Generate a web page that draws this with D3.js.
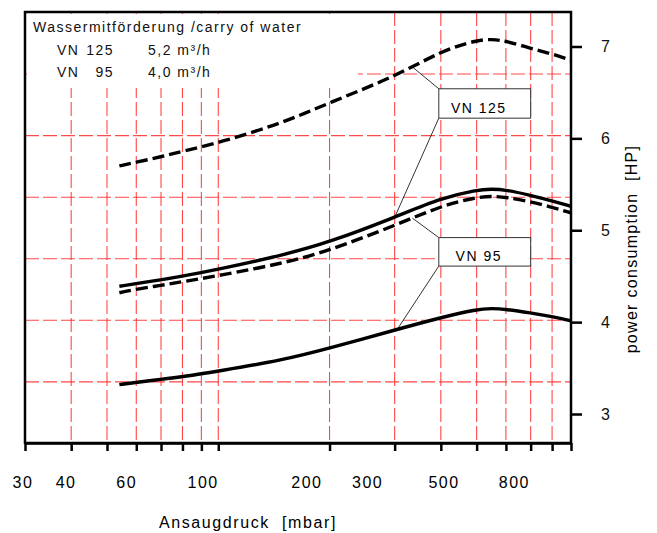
<!DOCTYPE html>
<html>
  <head>
	<meta charset="utf-8">
    <title>Leistungsbedarf VN 95 / VN 125</title>
    <script src="https://cdn.jsdelivr.net/npm/d3@7"></script>
  	<style>
		body{
			margin:0;
			background:#fff;
		}
		svg{
			display:block;
			font-family:"Liberation Sans", Arial, sans-serif;
		}
		svg text{
			white-space:pre;
		}
		.grid line{
			stroke:#ff2a2a;
			stroke-width:1.1px;
			stroke-dasharray:14,4;
			opacity:0.85;
		}
		.curve{
			fill:none;
			stroke:#000;
			stroke-width:3.4px;
		}
		.wet{
			stroke-dasharray:12,5;
		}
		.axis path, .axis line{
			stroke:#000;
			stroke-width:2.5px;
		}
	</style>
  </head>
  <body>
    <div id="diagram"></div>
    <script>
		// x: Ansaugdruck [mbar], y: power consumption [HP]
		var xTicks = [30,40,50,60,70,80,90,100,200,300,400,500,600,700,800,900];
		var xLabels = [30,40,60,100,200,300,500,800];
		var yTicks = [3,4,5,6,7];
		var gridHP = [3.35,4.02,4.69,5.36,6.03,6.70];//kW lines 2.5 ... 5.0 in HP

		var pressure = [54,60,70,80,100,150,200,300,400,500,550,600,700,800,900];
		var vn125Wet = [5.70,5.74,5.80,5.86,5.95,6.17,6.39,6.67,6.95,7.07,7.08,7.06,6.98,6.92,6.85];
		var vn125Dry = [4.39,4.42,4.46,4.50,4.575,4.73,4.87,5.14,5.35,5.44,5.45,5.44,5.38,5.32,5.26];
		var vn95Wet = [4.32,4.36,4.40,4.44,4.505,4.64,4.78,5.05,5.265,5.36,5.37,5.36,5.31,5.25,5.19];
		var vn95Dry = [3.32,3.345,3.377,3.405,3.467,3.587,3.715,3.914,4.05,4.14,4.15,4.14,4.10,4.06,4.015];

		var legendRows = [["VN","125","5,2 m³/h"],["VN","95","4,0 m³/h"]];
		// label boxes: x range [mbar], y range [HP], leader targets [mbar]
		var boxes = [
			{label:"VN 125", x0:395, x1:700, y0:6.54, y1:6.22, top:[335,vn125Wet], bottom:[300,vn125Dry]},
			{label:"VN 95", x0:395, x1:700, y0:4.92, y1:4.61, top:[335,vn95Wet], bottom:[305,vn95Dry]}
		];

		var width = 657, height = 533;
		var plotLeft = 25, plotRight = 571, plotTop = 12, plotBottom = 443;

		var svg = d3.select("#diagram").append("svg")
					.attr("width", width)
					.attr("height", height);

		var xScale = d3.scaleLog().domain([30,900]).range([plotLeft,plotRight]);
		// the printed labels sit a bit off their ticks in the original
		var xLabelScale = d3.scaleLog().domain([30,900]).range([23,532]);
		var yScale = d3.scaleLinear().domain([3,7]).range([414,46.5]);

		// grid
		var grid = svg.append("g").attr("class","grid");
		grid.selectAll(".v").data(xTicks.slice(1,-1)).enter().append("line")
			.attr("x1",function(d){return xScale(d);})
			.attr("x2",function(d){return xScale(d);})
			.attr("y1",plotTop).attr("y2",plotBottom);
		grid.selectAll(".h").data(gridHP).enter().append("line")
			.attr("x1",plotLeft).attr("x2",plotRight)
			.attr("y1",function(d){return yScale(d);})
			.attr("y2",function(d){return yScale(d);});

		// white area behind the legend text
		svg.append("rect")
			.attr("x",plotLeft+2).attr("y",plotTop+2)
			.attr("width",358-plotLeft-2).attr("height",88-plotTop-2)
			.attr("fill","#fff");

		// legend text
		var legend = svg.append("g").attr("font-size",14).attr("letter-spacing",1.5).attr("fill","#111");
		legend.append("text").attr("x",33).attr("y",32).text("Wassermitförderung /carry of water");
		legendRows.forEach(function(r,i){
			var yy = 55 + i*22;
			legend.append("text").attr("x",57).attr("y",yy).text(r[0]);
			legend.append("text").attr("x",114).attr("y",yy).attr("text-anchor","end").text(r[1]);
			legend.append("text").attr("x",148).attr("y",yy).text(r[2]);
		});

		// curves
		var line = d3.line()
			.x(function(d){return xScale(d[0]);})
			.y(function(d){return yScale(d[1]);})
			.curve(d3.curveBasis);
		function pts(vals){ return pressure.map(function(p,i){return [p,vals[i]];}); }
		[[vn125Wet,true],[vn125Dry,false],[vn95Wet,true],[vn95Dry,false]].forEach(function(s){
			svg.append("path")
				.attr("class", s[1] ? "curve wet" : "curve")
				.attr("d", line(pts(s[0])));
		});

		// value on a curve at pressure p (linear in log p)
		function valueAt(vals,p){
			var i = d3.bisectRight(pressure,p) - 1;
			var t = (Math.log(p)-Math.log(pressure[i]))/(Math.log(pressure[i+1])-Math.log(pressure[i]));
			return vals[i] + t*(vals[i+1]-vals[i]);
		}

		// label boxes with leader lines
		boxes.forEach(function(b){
			var g = svg.append("g");
			g.append("line")
				.attr("x1",xScale(b.x0)).attr("y1",yScale(b.y0))
				.attr("x2",xScale(b.top[0])).attr("y2",yScale(valueAt(b.top[1],b.top[0])))
				.attr("stroke","#000").attr("stroke-width",0.8);
			g.append("line")
				.attr("x1",xScale(b.x0)).attr("y1",yScale(b.y1))
				.attr("x2",xScale(b.bottom[0])).attr("y2",yScale(valueAt(b.bottom[1],b.bottom[0])))
				.attr("stroke","#000").attr("stroke-width",0.8);
			g.append("rect")
				.attr("x",xScale(b.x0)).attr("y",yScale(b.y0))
				.attr("width",xScale(b.x1)-xScale(b.x0))
				.attr("height",yScale(b.y1)-yScale(b.y0))
				.attr("fill","#fff").attr("stroke","#333").attr("stroke-width",1);
			g.append("text")
				.attr("x",xScale(b.x0)+40)
				.attr("y",yScale(b.y1)-5)
				.attr("text-anchor","middle")
				.attr("font-size",14).attr("letter-spacing",1.5)
				.text(b.label);
		});

		// frame
		svg.append("rect")
			.attr("x",plotLeft).attr("y",plotTop)
			.attr("width",plotRight-plotLeft).attr("height",plotBottom-plotTop)
			.attr("fill","none").attr("stroke","#000").attr("stroke-width",2.5);

		// bottom axis (ticks only, labels placed separately)
		svg.append("g")
			.attr("class","axis")
			.attr("transform","translate(0,"+plotBottom+")")
			.call(d3.axisBottom(xScale).tickValues(xTicks).tickSize(8).tickSizeOuter(0).tickFormat(""))
			.call(function(g){ g.selectAll(".tick line").attr("stroke-width",2); });
		svg.append("g").selectAll("text").data(xLabels).enter().append("text")
			.attr("x",function(d){return xLabelScale(d);})
			.attr("y",488)
			.attr("text-anchor","middle")
			.attr("font-size",16).attr("letter-spacing",1.5)
			.text(function(d){return d;});

		// right axis
		svg.append("g")
			.attr("class","axis")
			.attr("transform","translate("+plotRight+",0)")
			.call(d3.axisRight(yScale).tickValues(yTicks).tickSize(11).tickPadding(19).tickFormat(d3.format("d")))
			.call(function(g){
				g.select(".domain").remove();
				g.selectAll(".tick text").attr("font-size",16).attr("fill","#111").attr("font-family",null);
			});

		// axis titles
		svg.append("text")
			.attr("x",248).attr("y",528)
			.attr("text-anchor","middle")
			.attr("font-size",16).attr("letter-spacing",1.6)
			.text("Ansaugdruck  [mbar]");
		svg.append("text")
			.attr("transform","translate(637,249) rotate(-90)")
			.attr("text-anchor","middle")
			.attr("font-size",16).attr("letter-spacing",1.3)
			.text("power consumption  [HP]");
	</script>
  </body>
</html>
